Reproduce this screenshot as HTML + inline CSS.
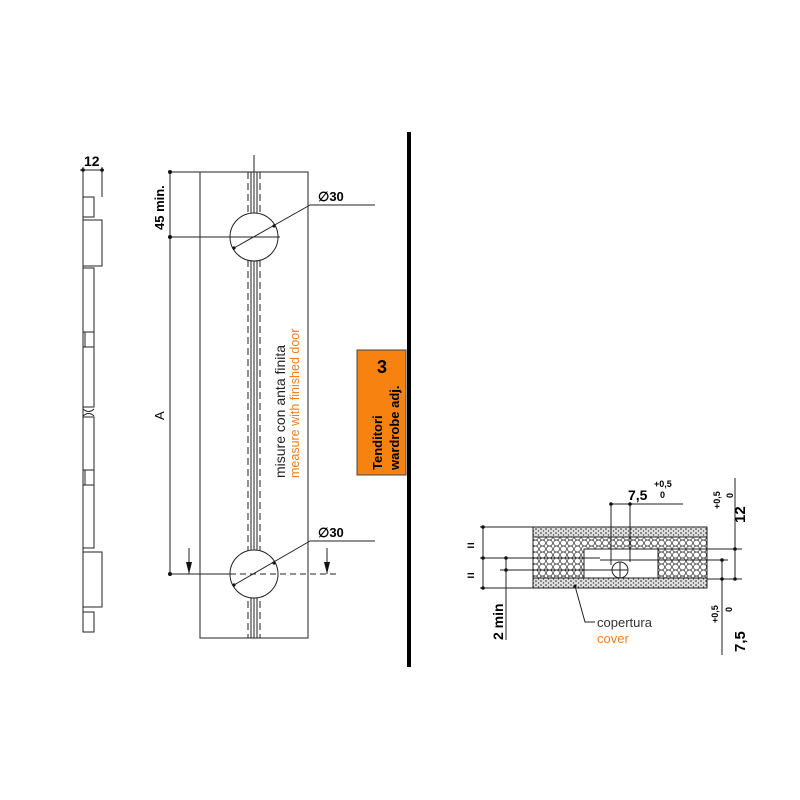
<!DOCTYPE html>
<html><head><meta charset="utf-8"><style>
html,body{margin:0;padding:0;background:#fff}
svg{display:block}
text{font-family:"Liberation Sans",Arial,sans-serif}
</style></head><body>
<svg width="800" height="800" viewBox="0 0 800 800" xmlns="http://www.w3.org/2000/svg">
<defs>
<pattern id="hex" width="7" height="6" patternUnits="userSpaceOnUse">
<circle cx="3.5" cy="3" r="3" fill="none" stroke="#333" stroke-width="0.7"/>
</pattern>
<pattern id="dots" width="5" height="4" patternUnits="userSpaceOnUse">
<rect width="5" height="4" fill="#e0e0e0"/>
<circle cx="1" cy="1" r="0.8" fill="#222"/><circle cx="3.5" cy="3" r="0.7" fill="#444"/>
</pattern>
</defs>
<g stroke="#222" stroke-width="1" fill="none">
<line x1="83" y1="167" x2="83" y2="632"/>
<line x1="102" y1="167" x2="102" y2="197"/>
<line x1="80" y1="170" x2="104" y2="170"/>
<rect x="83" y="197" width="11" height="20"/>
<rect x="83" y="220" width="19" height="46"/>
<rect x="83" y="268" width="11" height="64"/>
<rect x="85" y="332" width="9" height="15"/>
<rect x="83" y="347" width="11" height="60"/>
<path d="M83 409 Q89 414 94 409 M83 416 Q89 411 94 416"/>
<rect x="83" y="417" width="11" height="53"/>
<rect x="85" y="470" width="9" height="15"/>
<rect x="83" y="485" width="11" height="63"/>
<rect x="83" y="552" width="19" height="55"/>
<rect x="83" y="612" width="11" height="20"/>
<rect x="200" y="172" width="108" height="466"/>
<line x1="254" y1="155" x2="254" y2="638"/>
<line x1="251" y1="172" x2="251" y2="638"/>
<line x1="257" y1="172" x2="257" y2="638"/>
<line x1="248" y1="172" x2="248" y2="638" stroke-dasharray="7,4"/>
<line x1="260" y1="172" x2="260" y2="638" stroke-dasharray="7,4"/>
<circle cx="254" cy="237" r="24" fill="#fff"/>
<circle cx="254" cy="574" r="24" fill="#fff"/>
<line x1="234" y1="248" x2="310" y2="205"/><line x1="310" y1="205" x2="375" y2="205"/>
<line x1="234" y1="585" x2="310" y2="541"/><line x1="310" y1="541" x2="375" y2="541"/>
<line x1="170" y1="172" x2="170" y2="574"/>
<line x1="170" y1="172" x2="200" y2="172"/>
<line x1="170" y1="237" x2="280" y2="237"/>
<line x1="170" y1="574" x2="230" y2="574"/>
<line x1="230" y1="574" x2="340" y2="574" stroke-dasharray="6,4"/>
<line x1="189" y1="548" x2="189" y2="574"/><line x1="327" y1="548" x2="327" y2="574"/>
</g>
<g fill="#111">
<circle cx="170" cy="172" r="2"/><circle cx="170" cy="237" r="2"/><circle cx="170" cy="574" r="2"/>
<circle cx="83" cy="170" r="1.8"/><circle cx="102" cy="170" r="1.8"/>
<circle cx="234" cy="248" r="1.6"/><circle cx="274" cy="226" r="1.6"/>
<circle cx="234" cy="585" r="1.6"/><circle cx="274" cy="563" r="1.6"/>
<path d="M186 562 L192 562 L189 574 Z"/><path d="M324 562 L330 562 L327 574 Z"/>
</g>
<text x="84" y="166" font-size="14" font-weight="bold">12</text>
<text x="318" y="201" font-size="13" font-weight="bold">∅30</text>
<text x="318" y="537" font-size="13" font-weight="bold">∅30</text>
<text transform="translate(164,230) rotate(-90)" font-size="13" font-weight="bold">45 min.</text>
<text transform="translate(164,420) rotate(-90)" font-size="13">A</text>
<text transform="translate(285,478) rotate(-90)" font-size="14" fill="#222">misure con anta finita</text>
<text transform="translate(299,478) rotate(-90)" font-size="12.5" fill="#f07f1f">measure with finished door</text>
<rect x="407" y="132" width="4" height="535" fill="#000"/>
<rect x="357" y="350" width="49" height="125" fill="#f7820f" stroke="#444" stroke-width="1"/>
<text x="377" y="373" font-size="18" font-weight="bold">3</text>
<text transform="translate(382,470) rotate(-90)" font-size="13" font-weight="bold">Tenditori</text>
<text transform="translate(399,470) rotate(-90)" font-size="13" font-weight="bold">wardrobe adj.</text>
<rect x="533" y="527" width="174" height="61" fill="url(#hex)" stroke="#222"/>
<rect x="533" y="527" width="174" height="10" fill="url(#dots)" stroke="#222"/>
<rect x="533" y="578" width="174" height="10" fill="url(#dots)" stroke="#222"/>
<rect x="584" y="549" width="74" height="29" fill="#fff" stroke="#222"/>
<g stroke="#222" stroke-width="1" fill="none">
<circle cx="620" cy="570" r="8" fill="#fff"/>
<line x1="612" y1="570" x2="628" y2="570"/><line x1="620" y1="562" x2="620" y2="578"/>
<line x1="611" y1="503" x2="611" y2="565"/><line x1="630" y1="503" x2="630" y2="562"/>
<line x1="611" y1="504" x2="683" y2="504"/>
<line x1="483" y1="527" x2="483" y2="588"/>
<line x1="480" y1="527" x2="533" y2="527"/><line x1="480" y1="558" x2="600" y2="558"/><line x1="480" y1="588" x2="533" y2="588"/>
<line x1="506" y1="558" x2="506" y2="640"/>
<line x1="500" y1="570" x2="612" y2="570"/>
<line x1="735" y1="478" x2="735" y2="580"/>
<line x1="658" y1="549" x2="742" y2="549"/><line x1="707" y1="579" x2="742" y2="579"/>
<line x1="722" y1="560" x2="722" y2="655"/>
<line x1="600" y1="560" x2="728" y2="560"/>
<path d="M575 586 L585 622 L595 622"/>
</g>
<g fill="#111">
<circle cx="611" cy="504" r="1.8"/><circle cx="630" cy="504" r="1.8"/>
<circle cx="483" cy="527" r="1.8"/><circle cx="483" cy="558" r="1.8"/><circle cx="483" cy="588" r="1.8"/>
<circle cx="506" cy="558" r="1.8"/><circle cx="506" cy="570" r="1.8"/>
<circle cx="735" cy="549" r="1.8"/><circle cx="735" cy="579" r="1.8"/>
<circle cx="722" cy="560" r="1.8"/><circle cx="722" cy="579" r="1.8"/>
<circle cx="575" cy="586" r="1.5"/>
</g>
<text x="628" y="500" font-size="14" font-weight="bold">7,5</text>
<text x="654" y="487" font-size="9" font-weight="bold">+0,5</text>
<text x="660" y="498" font-size="9" font-weight="bold">0</text>
<text x="467" y="550" font-size="13" font-weight="bold">=</text>
<text x="467" y="580" font-size="13" font-weight="bold">=</text>
<text transform="translate(503,640) rotate(-90)" font-size="14" font-weight="bold">2 min</text>
<text transform="translate(745,523) rotate(-90)" font-size="15" font-weight="bold">12</text>
<text transform="translate(720,509) rotate(-90)" font-size="9" font-weight="bold">+0,5</text>
<text transform="translate(733,498) rotate(-90)" font-size="9" font-weight="bold">0</text>
<text transform="translate(745,652) rotate(-90)" font-size="15" font-weight="bold">7,5</text>
<text transform="translate(718,623) rotate(-90)" font-size="9" font-weight="bold">+0,5</text>
<text transform="translate(732,612) rotate(-90)" font-size="9" font-weight="bold">0</text>
<text x="597" y="627" font-size="13" fill="#333">copertura</text>
<text x="597" y="643" font-size="13" fill="#f07f1f">cover</text>
</svg>
</body></html>
